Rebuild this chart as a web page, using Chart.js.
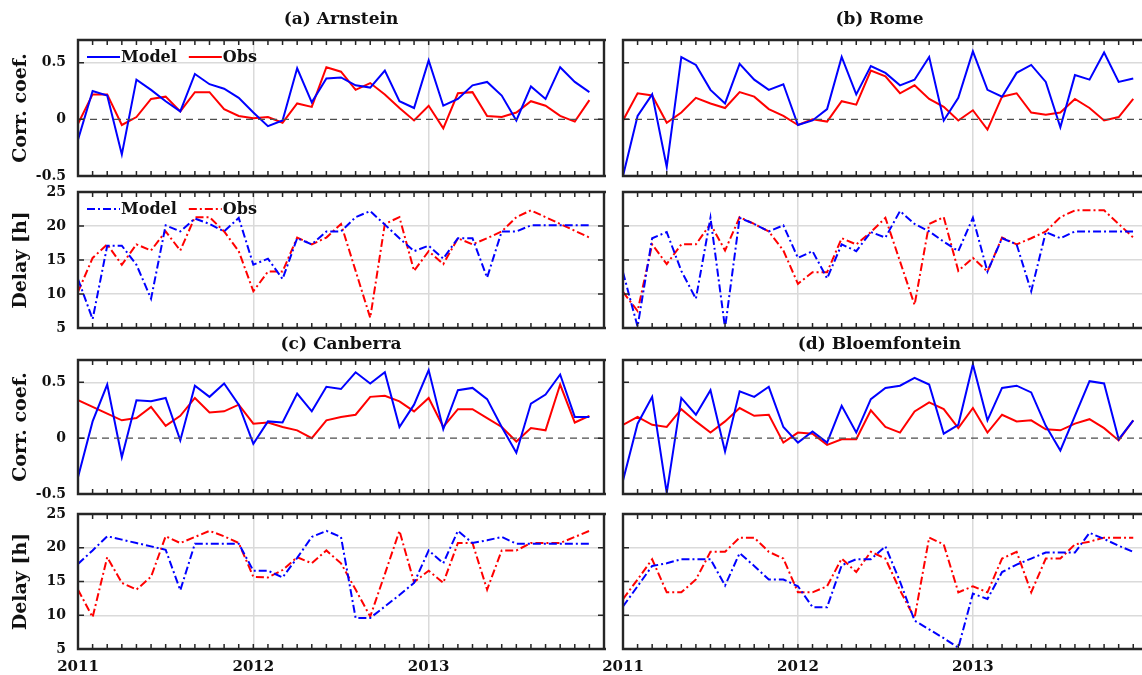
<!DOCTYPE html>
<html><head><meta charset="utf-8">
<script src="https://cdn.jsdelivr.net/npm/chart.js@4.4.1/dist/chart.umd.min.js"></script>
<style>
html,body{margin:0;padding:0;background:#fff;overflow:hidden;width:1142px;height:675px;position:relative;}
canvas{position:absolute;}
</style></head><body>
<canvas id="p0"></canvas><canvas id="p1"></canvas><canvas id="p2"></canvas><canvas id="p3"></canvas>
<canvas id="p4"></canvas><canvas id="p5"></canvas><canvas id="p6"></canvas><canvas id="p7"></canvas>
<script>
// ---- categories / ticks ----
const months = ['2011-01','2011-02','2011-03','2011-04','2011-05','2011-06','2011-07','2011-08','2011-09','2011-10','2011-11','2011-12',
  '2012-01','2012-02','2012-03','2012-04','2012-05','2012-06','2012-07','2012-08','2012-09','2012-10','2012-11','2012-12',
  '2013-01','2013-02','2013-03','2013-04','2013-05','2013-06','2013-07','2013-08','2013-09','2013-10','2013-11','2013-12'];
const yearTickValues = [0, 12, 24, 36];
const yearTickLabels = ['2011', '2012', '2013', ''];
const corrTicks = [-0.5, 0, 0.5];
const delayTicks = [5, 10, 15, 20, 25];

// ---- series ----
const arnCorrModel = [-0.18,0.25,0.21,-0.31,0.35,0.26,0.16,0.07,0.40,0.31,0.27,0.19,0.06,-0.06,-0.01,0.45,0.15,0.36,0.37,0.30,0.28,0.43,0.16,0.10,0.52,0.12,0.18,0.30,0.33,0.21,-0.01,0.29,0.18,0.46,0.33,0.24];
const arnCorrObs   = [-0.04,0.22,0.22,-0.05,0.02,0.18,0.20,0.07,0.24,0.24,0.09,0.03,0.01,0.02,-0.03,0.14,0.11,0.46,0.42,0.26,0.32,0.22,0.10,-0.01,0.12,-0.08,0.23,0.24,0.03,0.02,0.06,0.16,0.12,0.03,-0.02,0.17];
const romeCorrModel = [-0.50,0.03,0.22,-0.42,0.55,0.48,0.26,0.14,0.49,0.35,0.26,0.31,-0.05,-0.01,0.09,0.55,0.22,0.47,0.41,0.30,0.35,0.55,-0.01,0.19,0.60,0.26,0.20,0.41,0.48,0.33,-0.07,0.39,0.35,0.59,0.33,0.36];
const romeCorrObs   = [-0.01,0.23,0.21,-0.03,0.06,0.19,0.14,0.10,0.24,0.20,0.09,0.03,-0.05,0.00,-0.02,0.16,0.13,0.43,0.38,0.23,0.30,0.18,0.11,-0.01,0.08,-0.09,0.20,0.23,0.06,0.04,0.06,0.18,0.10,-0.01,0.02,0.18];
const canCorrModel = [-0.35,0.15,0.48,-0.17,0.34,0.33,0.36,-0.02,0.47,0.37,0.49,0.30,-0.05,0.15,0.14,0.40,0.24,0.46,0.44,0.59,0.49,0.59,0.10,0.30,0.61,0.08,0.43,0.45,0.35,0.10,-0.13,0.31,0.39,0.57,0.19,0.19];
const canCorrObs   = [0.34,0.28,0.22,0.16,0.18,0.28,0.11,0.20,0.36,0.23,0.24,0.30,0.13,0.14,0.10,0.07,0.00,0.16,0.19,0.21,0.37,0.38,0.33,0.24,0.36,0.10,0.26,0.26,0.18,0.10,-0.03,0.09,0.07,0.48,0.14,0.20];
const bloCorrModel = [-0.38,0.13,0.37,-0.49,0.36,0.21,0.43,-0.12,0.42,0.37,0.46,0.10,-0.04,0.06,-0.04,0.29,0.05,0.35,0.45,0.47,0.54,0.48,0.04,0.12,0.66,0.16,0.45,0.47,0.41,0.11,-0.11,0.20,0.51,0.49,-0.01,0.16];
const bloCorrObs   = [0.12,0.19,0.12,0.10,0.26,0.15,0.05,0.15,0.27,0.20,0.21,-0.04,0.05,0.04,-0.06,-0.01,-0.01,0.25,0.10,0.05,0.24,0.32,0.26,0.09,0.27,0.05,0.21,0.15,0.16,0.08,0.07,0.13,0.17,0.09,-0.02,0.16];

const arnDelayModel = [12.2,6.3,17.1,17.1,14.3,9.3,20.1,19.2,21.1,20.3,19.2,21.2,14.3,15.2,12.2,18.2,17.3,19.2,19.2,21.3,22.2,20.2,18.2,16.3,17.1,15.2,18.2,18.2,12.4,19.2,19.2,20.1,20.1,20.1,20.1,20.1];
const arnDelayObs   = [10.3,15.3,17.3,14.3,17.3,16.4,19.2,16.4,21.3,21.3,19.2,16.3,10.4,13.3,13.3,18.3,17.3,18.3,20.3,13.4,6.5,20.3,21.3,13.4,16.3,14.4,18.2,17.3,18.2,19.2,21.3,22.3,21.3,20.3,19.3,18.3];
const romeDelayModel = [13.2,5.2,18.2,19.1,13.4,9.3,21.2,5.0,21.2,20.3,19.2,20.1,15.3,16.3,12.3,17.3,16.3,19.1,18.3,22.2,20.3,19.2,17.7,16.3,21.2,13.3,18.2,17.3,10.4,19.1,18.2,19.2,19.2,19.2,19.2,19.2];
const romeDelayObs   = [10.3,7.5,17.3,14.4,17.3,17.3,20.3,16.4,21.3,20.3,19.2,16.4,11.5,13.2,13.2,18.2,17.3,19.1,21.2,14.8,8.4,20.3,21.3,13.4,15.3,13.3,18.3,17.3,18.2,19.2,21.3,22.3,22.3,22.3,20.3,18.3];
const canDelayModel = [17.6,19.6,21.7,21.2,20.7,20.2,19.7,13.7,20.6,20.6,20.6,20.6,16.6,16.6,15.6,18.5,21.6,22.5,21.6,9.6,9.6,11.3,13.0,14.8,19.6,17.7,22.5,20.7,21.1,21.6,20.6,20.6,20.6,20.6,20.6,20.6];
const canDelayObs   = [13.8,9.7,18.6,14.8,13.8,15.7,21.7,20.7,21.6,22.5,21.7,20.7,15.7,15.6,16.7,18.6,17.7,19.6,17.7,13.8,9.8,16.1,22.5,14.9,16.6,14.8,20.7,20.7,13.8,19.6,19.6,20.7,20.7,20.7,21.6,22.5];
const bloDelayModel = [11.3,14.3,17.3,17.7,18.3,18.3,18.3,14.4,19.2,17.3,15.3,15.3,14.3,11.2,11.2,17.4,18.3,18.3,20.2,15.0,9.2,7.9,6.6,5.2,13.2,12.4,16.4,17.5,18.4,19.3,19.3,19.3,22.2,21.3,20.3,19.4];
const bloDelayObs   = [12.4,15.3,18.3,13.4,13.4,15.3,19.4,19.4,21.5,21.5,19.4,18.4,13.4,13.4,14.3,18.4,16.4,19.4,18.4,13.7,9.6,21.5,20.5,13.4,14.3,13.4,18.4,19.4,13.4,18.4,18.4,20.5,20.9,21.5,21.5,21.5];

// ---- panels ----
const panels = [
  {id:'p0', kind:'corr',  col:0, row:0, title:'(a) Arnstein',     legend:true,  model:arnCorrModel,  obs:arnCorrObs},
  {id:'p1', kind:'corr',  col:1, row:0, title:'(b) Rome',         legend:false, model:romeCorrModel, obs:romeCorrObs},
  {id:'p2', kind:'delay', col:0, row:1, title:'',                 legend:true,  model:arnDelayModel, obs:arnDelayObs},
  {id:'p3', kind:'delay', col:1, row:1, title:'',                 legend:false, model:romeDelayModel,obs:romeDelayObs},
  {id:'p4', kind:'corr',  col:0, row:2, title:'(c) Canberra',     legend:false, model:canCorrModel,  obs:canCorrObs},
  {id:'p5', kind:'corr',  col:1, row:2, title:'(d) Bloemfontein', legend:false, model:bloCorrModel,  obs:bloCorrObs},
  {id:'p6', kind:'delay', col:0, row:3, title:'',                 legend:false, model:canDelayModel, obs:canDelayObs},
  {id:'p7', kind:'delay', col:1, row:3, title:'',                 legend:false, model:bloDelayModel, obs:bloDelayObs}
];

// layout (page pixels)
const colGeom = [
  {left:0,   width:612, axisW:78, padR:8, xMax:36,    rightEdge:true},
  {left:580, width:562, axisW:43, padR:0, xMax:35.6,  rightEdge:false}
];
const rowGeom = [
  {top:0,   height:184, padT:40, axisH:8,  titleGap:20},
  {top:184, height:152, padT:8,  axisH:8,  titleGap:0},
  {top:336, height:168, padT:24, axisH:10, titleGap:15},
  {top:504, height:171, padT:10, axisH:26, titleGap:0}
];

const FONT = "'DejaVu Serif', serif";
const INK = '#262626';
const GRID = '#dadada';

const deco = {
  id: 'deco',
  afterDatasetsDraw(chart, args, o) {
    const {ctx, chartArea: a} = chart;
    const x = chart.scales.x, y = chart.scales.y;
    ctx.save();
    ctx.strokeStyle = INK;
    ctx.lineWidth = 1.5;
    ctx.beginPath();
    for (let m = 0; m <= 36; m++) {
      const px = x.getPixelForValue(m);
      if (px < a.left - 0.5 || px > a.right + 0.5) continue;
      ctx.moveTo(px, a.bottom); ctx.lineTo(px, a.bottom - 5);
      ctx.moveTo(px, a.top); ctx.lineTo(px, a.top + 5);
    }
    y.ticks.forEach(t => {
      const py = y.getPixelForValue(t.value);
      ctx.moveTo(a.left, py); ctx.lineTo(a.left + 6, py);
      if (o.rightEdge) { ctx.moveTo(a.right, py); ctx.lineTo(a.right - 6, py); }
    });
    ctx.stroke();
    ctx.lineWidth = 2.4;
    ctx.beginPath();
    ctx.moveTo(a.right + 2, a.top); ctx.lineTo(a.left, a.top); ctx.lineTo(a.left, a.bottom); ctx.lineTo(a.right + 2, a.bottom);
    if (o.rightEdge) { ctx.moveTo(a.right, a.top); ctx.lineTo(a.right, a.bottom); }
    ctx.stroke();
    ctx.restore();
  },
  afterDraw(chart, args, o) {
    const {ctx, chartArea: a} = chart;
    ctx.save();
    if (o.title) {
      ctx.fillStyle = '#111';
      ctx.font = 'bold 17px ' + FONT;
      ctx.textAlign = 'center';
      ctx.textBaseline = 'middle';
      ctx.fillText(o.title, (a.left + a.right) / 2 + (o.titleDx || 0), a.top - o.titleGap);
    }
    if (o.legend) {
      let lx = a.left + 9;
      const ly = a.top + 17;
      ctx.font = 'bold 16px ' + FONT;
      ctx.textBaseline = 'middle';
      ctx.textAlign = 'left';
      chart.data.datasets.forEach(ds => {
        if (!ds.inLegend) return;
        ctx.strokeStyle = ds.borderColor;
        ctx.lineWidth = ds.borderWidth;
        ctx.setLineDash(ds.borderDash || []);
        ctx.beginPath(); ctx.moveTo(lx, ly); ctx.lineTo(lx + 33, ly); ctx.stroke();
        ctx.setLineDash([]);
        ctx.fillStyle = '#111';
        ctx.fillText(ds.label, lx + 34, ly + 1);
        lx += 34 + ctx.measureText(ds.label).width + 12;
      });
    }
    ctx.restore();
  }
};

panels.forEach(p => {
  const cg = colGeom[p.col], rg = rowGeom[p.row];
  const cv = document.getElementById(p.id);
  cv.width = cg.width; cv.height = rg.height;
  cv.style.left = cg.left + 'px'; cv.style.top = rg.top + 'px';
  cv.style.width = cg.width + 'px'; cv.style.height = rg.height + 'px';
  const isCorr = p.kind === 'corr';
  const dash = isCorr ? [] : [8, 3, 2, 3];
  const toXY = arr => arr.map((v, i) => ({x: months.indexOf(months[i]), y: v}));
  const datasets = [];
  if (isCorr) {
    datasets.push({label:'zero', data:[{x:0,y:0},{x:36,y:0}], borderColor:'#4d4d4d', borderWidth:1.3, borderDash:[7,5], pointRadius:0, inLegend:false});
  }
  datasets.push({label:'Model', data:toXY(p.model), borderColor:'#0000ff', borderWidth:2, borderDash:dash, pointRadius:0, tension:0, inLegend:true});
  datasets.push({label:'Obs', data:toXY(p.obs), borderColor:'#ff0000', borderWidth:2, borderDash:dash, pointRadius:0, tension:0, inLegend:true});
  const ticksArr = isCorr ? corrTicks : delayTicks;
  const bottomRow = p.row === 3;
  new Chart(cv, {
    type: 'line',
    data: {datasets},
    plugins: [deco],
    options: {
      responsive: false, animation: false, events: [], devicePixelRatio: 1,
      layout: {padding: {top: rg.padT, right: cg.padR, bottom: 0, left: 0}},
      plugins: {
        legend: {display: false}, tooltip: {enabled: false},
        deco: {title: p.title, titleGap: rg.titleGap, titleDx: p.col === 1 ? -3 : 0, legend: p.legend, rightEdge: cg.rightEdge}
      },
      scales: {
        x: {
          type: 'linear', min: 0, max: cg.xMax,
          afterBuildTicks: s => { s.ticks = yearTickValues.filter(v => v <= s.max).map(v => ({value: v})); },
          afterFit: s => { s.height = rg.axisH; s.paddingLeft = 0; s.paddingRight = 0; s.paddingTop = 0; s.paddingBottom = 0; },
          grid: {color: GRID, lineWidth: 1.5, drawTicks: false},
          border: {display: false},
          ticks: {display: bottomRow, maxRotation: 0, autoSkip: false, padding: 9, color: '#111',
                  font: {family: FONT, size: 15, weight: 'bold'},
                  callback: v => yearTickLabels[yearTickValues.indexOf(v)]}
        },
        y: {
          type: 'linear', min: isCorr ? -0.5 : 5, max: isCorr ? 0.7 : 25,
          afterBuildTicks: s => { s.ticks = ticksArr.map(v => ({value: v})); },
          afterFit: s => { s.width = cg.axisW; s.paddingTop = 0; s.paddingBottom = 0; s.paddingLeft = 0; s.paddingRight = 0; },
          grid: {drawTicks: false, lineWidth: 1.5,
                 color: c => (isCorr && c.tick && c.tick.value === 0) ? 'rgba(0,0,0,0)' : GRID},
          border: {display: false},
          ticks: {display: p.col === 0, padding: 12, color: '#111',
                  font: {family: FONT, size: 14, weight: 'bold'},
                  callback: v => String(v)},
          title: {display: p.col === 0, text: isCorr ? 'Corr. coef.' : 'Delay [h]', color: '#111',
                  font: {family: FONT, size: 19, weight: 'bold'}, padding: {top: 10, bottom: 0}}
        }
      }
    }
  });
});
</script>
</body></html>
